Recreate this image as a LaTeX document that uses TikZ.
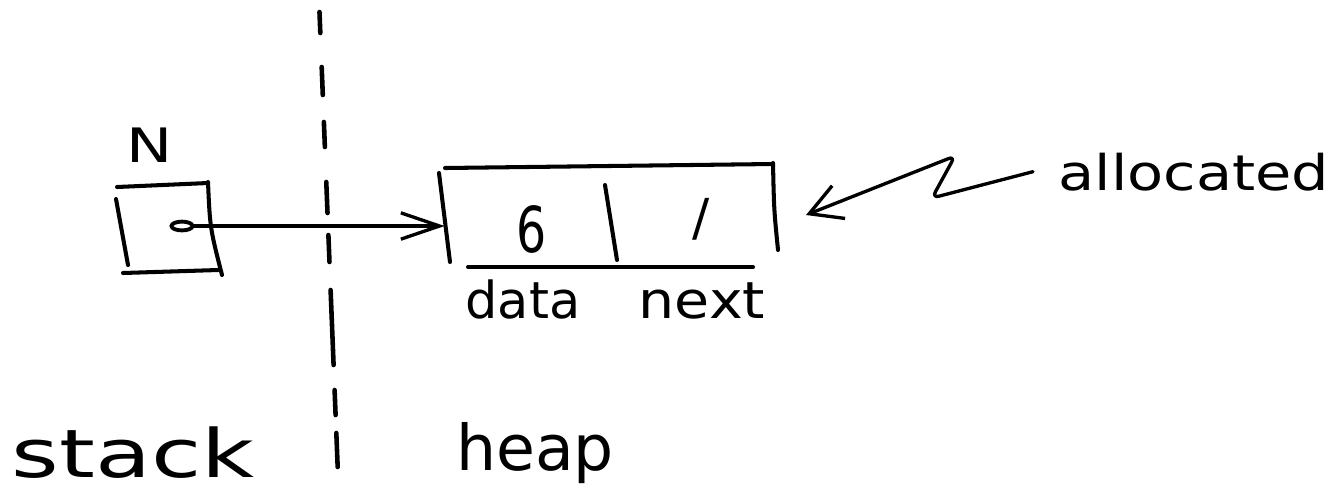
\documentclass[tikz,border=0pt]{standalone}
\usepackage{fontspec}
\setmainfont{DejaVu Sans}
\usetikzlibrary{arrows.meta,shapes.geometric,fit}

\begin{document}
\begin{tikzpicture}[x=0.02cm,y=-0.02cm,
  ink/.style={line width=2.3pt, line cap=round, line join=round},
  divider/.style={line width=2.6pt, line cap=round},
  pointer/.style={line width=1.9pt, line cap=round,
    -{Straight Barb[length=22pt,width=15pt,line width=1.9pt]}},
  callout/.style={line width=1.9pt, line cap=round, line join=round, rounded corners=4pt,
    -{Straight Barb[length=18pt,width=20pt,line width=1.9pt]}},
  hand/.style={inner sep=0pt, anchor=base},
  area/.style={inner sep=0pt},
]
\useasboundingbox (0,0) rectangle (1341,495);

% stack / heap divider
\foreach \ya/\yb in {12/33, 67/95, 122/147, 182/213, 235/262, 290/365, 390/415, 433/467}
  \draw[divider] ({319+0.04*\ya},\ya) -- ({319+0.04*\yb},\yb);

% the variable N on the stack
\node[area, fit={(117,182) (222,275)}] (ncell) {};
\draw[ink] (117,187) -- (208,183);
\draw[ink] (208,182) .. controls (210,228) .. (222,275);
\draw[ink] (116,199) -- (128,265);
\draw[ink] (123,273) -- (218,270);
\node[hand, font=\fontsize{27}{31}\selectfont, xscale=1.3] (nlabel) at (150,162) {N};
\node[draw, ellipse, line width=2.2pt, minimum width=12pt, minimum height=5pt, inner sep=0pt] (ptr) at (182,226) {};

% the node on the heap
\node[area, fit={(445,166) (777,266)}] (heap) {};
\draw[ink] (445,168) -- (773,164);
\draw[ink] (439,173) -- (450,262);
\draw[ink] (605,185) -- (617,260);
\draw[ink] (773,163) .. controls (774,210) .. (778,250);
\draw[ink] (468,267) -- (753,267);
\node[hand, font=\fontsize{36}{40}\selectfont, xscale=0.75] (val) at (532,252) {6};
\node[hand, font=\fontsize{29}{33}\selectfont] (nil) at (701,235) {/};
\node[hand, font=\fontsize{29}{33}\selectfont] (datalab) at (523,318) {data};
\node[hand, font=\fontsize{29}{33}\selectfont, xscale=1.12] (nextlab) at (702,318) {next};

% pointer from N to the heap node
\draw[pointer] (ptr.east) -- (ptr.east -| heap.west);

% callout
\node[hand, anchor=base west, inner xsep=12pt, font=\fontsize{28}{32}\selectfont, xscale=1.2] (alloc) at (1033,190) {allocated};
\coordinate (tip) at (806,215);
\draw[callout] (alloc.west) -- (932,198) -- (955,156) -- (tip);

% region labels
\node[hand, font=\fontsize{38}{42}\selectfont, xscale=1.37] (stacklab) at (133,477) {stack};
\node[hand, font=\fontsize{36}{40}\selectfont] (heaplab) at (535,470) {heap};
\end{tikzpicture}
\end{document}
